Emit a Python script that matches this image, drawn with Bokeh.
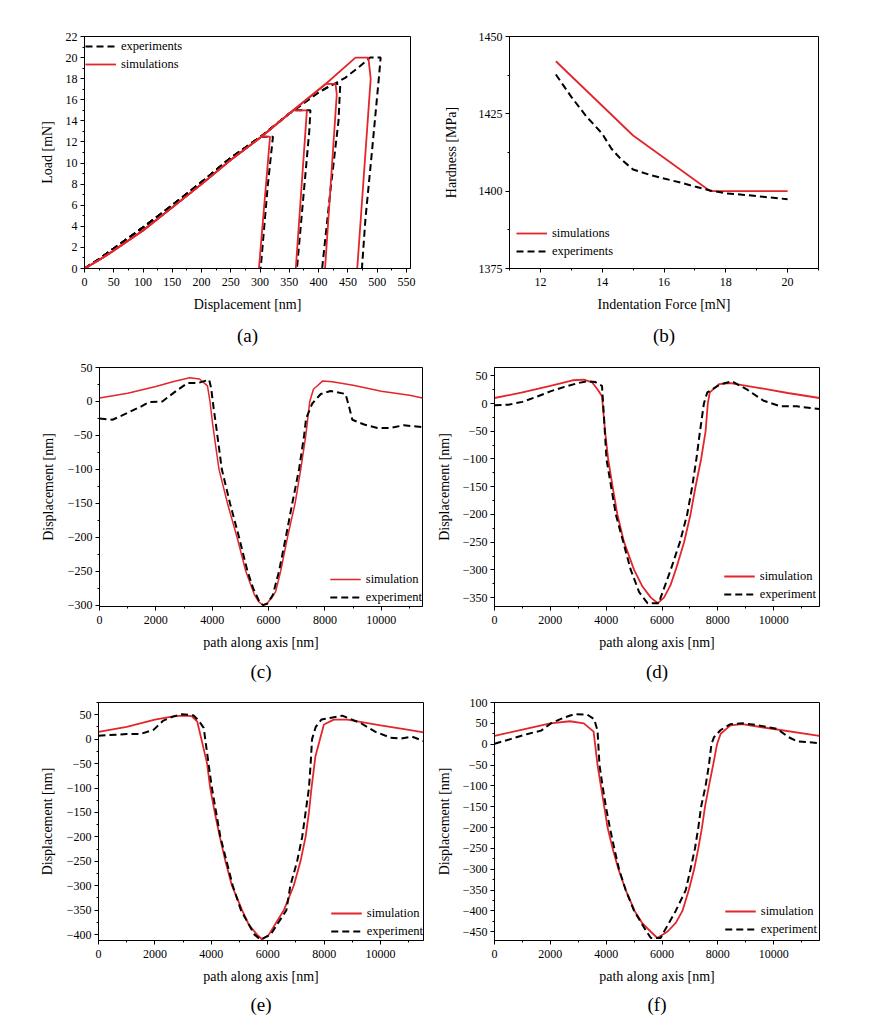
from bokeh.plotting import figure
from bokeh.models import Range1d, SingleIntervalTicker, FixedTicker, Legend, LegendItem, LinearAxis
from bokeh.layouts import column, row
from bokeh.embed import file_html
from bokeh.resources import INLINE

# ---------------- data ----------------
# (a) load-displacement curves
a_sim_load_disp = [0, 25, 50, 100, 150, 200, 250, 300, 350, 412, 463]
a_sim_load_force = [0, 0.8, 1.7, 3.6, 5.8, 8.0, 10.3, 12.4, 14.7, 17.5, 20.0]
a_exp_load_disp = [0, 25, 50, 100, 150, 200, 250, 300, 350, 400, 430, 446, 471, 488]
a_exp_load_force = [0, 0.9, 1.9, 3.9, 6.0, 8.2, 10.5, 12.45, 14.7, 16.7, 17.6, 18.1, 19.2, 20.0]
a_max_force = [12.5, 15.0, 17.5, 20.0]
a_sim_unl_125_disp = [302, 317, 298]
a_sim_unl_125_force = [12.5, 12.5, 0]
a_sim_unl_150_disp = [357, 380, 361]
a_sim_unl_150_force = [15, 15, 0]
a_sim_unl_175_disp = [412, 429, 431, 411]
a_sim_unl_175_force = [17.5, 17.5, 16.5, 0]
a_sim_unl_200_disp = [463, 485, 489, 466]
a_sim_unl_200_force = [20, 20, 18, 0]
a_exp_unl_125_disp = [303, 322, 313, 301]
a_exp_unl_125_force = [12.5, 12.5, 7.8, 0]
a_exp_unl_150_disp = [358, 386, 384, 363]
a_exp_unl_150_force = [15, 15, 13, 0]
a_exp_unl_175_disp = [425, 437, 434, 421, 406]
a_exp_unl_175_force = [17.5, 17.5, 14, 7.8, 0]
a_exp_unl_200_disp = [488, 506, 503, 491, 480, 474]
a_exp_unl_200_force = [20, 20, 18.1, 11, 4.7, 0]

# (b) hardness vs indentation force
b_sim_force = [12.5, 15, 17.5, 20]
b_sim_hard = [1442, 1418, 1400, 1400]
b_exp_force = [12.5, 13, 13.5, 14, 14.3, 14.6, 15, 15.5, 16, 16.6, 17, 17.5, 18, 18.6, 19.2, 20]
b_exp_hard = [1437.7, 1430.5, 1424, 1418.6, 1413.7, 1410.4, 1407, 1405.4, 1404.1, 1402.6, 1401.5, 1400.2,
              1399.3, 1398.8, 1398.2, 1397.4]

# (c) profile
c_sim_x = [0, 1000, 2000, 2600, 3200, 3550, 3830, 3920, 4010, 4120, 4240, 4540, 4880, 5190, 5500, 5650, 5800,
           5950, 6100, 6250, 6430, 6670, 6940, 7140, 7320, 7460, 7590, 7700, 7910, 8260, 9000, 10000, 11000, 11460]
c_sim_y = [5, 12, 22, 29, 35, 33, 23, 0, -32, -65, -100, -150, -200, -250, -285, -295, -300,
           -297, -290, -280, -250, -200, -150, -100, -50, 0, 18, 22, 30, 29, 24, 15, 9, 5]
c_exp_x = [0, 460, 990, 1470, 1760, 2230, 2770, 3120, 3480, 3890, 3960, 4050, 4150, 4340, 4630, 4950, 5250,
           5450, 5650, 5800, 5950, 6150, 6370, 6610, 6840, 7080, 7260, 7330, 7550, 7850, 8200, 8730, 8850,
           8970, 9390, 9860, 10330, 10800, 11460]
c_exp_y = [-25, -27, -17, -7.5, -1, 0, 17, 27, 27, 32, 20, -10, -40, -100, -150, -200, -250,
           -275, -293, -300, -298, -285, -250, -200, -150, -100, -50, -25, -3, 11, 15.5, 11, -7,
           -27, -34, -39, -39, -35, -38]

# (d) profile
d_sim_x = [0, 1000, 2000, 2800, 3200, 3500, 3700, 3850, 3960, 4070, 4230, 4400, 4640, 5000, 5300, 5600, 5850,
           6070, 6300, 6490, 6790, 7020, 7200, 7400, 7560, 7640, 7710, 8040, 8450, 9500, 10500, 11640]
d_sim_y = [10, 20, 32, 42, 43, 38, 25, 13, -50, -100, -150, -200, -250, -300, -330, -350, -360,
           -350, -328, -300, -250, -200, -150, -100, -50, 0, 20, 35, 37, 28, 19, 10]
d_exp_x = [0, 500, 1000, 1500, 2000, 2500, 3000, 3300, 3600, 3850, 3940, 4010, 4345, 4880, 5180, 5480, 5900,
           5950, 6310, 6640, 6900, 7080, 7230, 7360, 7500, 7620, 8100, 8510, 9050, 9640, 10240, 10830, 11640]
d_exp_y = [-3, -2, 3, 12, 22, 30, 37, 40, 39, 32, -40, -100, -200, -300, -340, -360, -360,
           -350, -300, -250, -200, -150, -100, -50, 0, 20, 35, 40, 25, 5, -5, -5, -10]

# (e) profile
e_sim_x = [0, 1000, 2000, 2700, 3000, 3300, 3500, 3850, 3960, 4120, 4300, 4500, 4730, 5090, 5330, 5620, 5800,
           6040, 6300, 6570, 6920, 7160, 7340, 7460, 7550, 7690, 7990, 8340, 8820, 10000, 11000, 11520]
e_sim_y = [15, 25, 40, 47, 48, 47, 36, -50, -100, -150, -200, -250, -300, -350, -380, -400, -410,
           -400, -375, -350, -300, -250, -200, -150, -100, -35, 30, 40, 40, 28, 19, 14]
e_exp_x = [0, 1000, 1480, 1950, 2300, 2660, 2960, 3370, 3550, 3730, 3900, 4020, 4170, 4320, 4760, 5050, 5530,
           5740, 6100, 6660, 6800, 7040, 7220, 7340, 7460, 7520, 7570, 7700, 7900, 8250, 8640, 9290, 9820,
           10350, 10710, 11120, 11520]
e_exp_y = [7, 10.5, 10.5, 19, 38, 46.5, 51, 48.5, 38, 23, -50, -100, -150, -200, -300, -350, -400,
           -410, -400, -350, -300, -250, -200, -150, -100, -50, 0, 25, 40, 44, 48, 33, 15,
           3, 1, 5, -4]

# (f) profile
f_sim_x = [0, 1000, 2000, 2700, 3200, 3550, 3690, 3810, 3930, 4050, 4230, 4440, 4700, 5020, 5300, 5600, 5830,
           6190, 6500, 6730, 6960, 7150, 7300, 7430, 7540, 7680, 7830, 7970, 8100, 8450, 8870, 9640, 11640]
f_sim_y = [20, 35, 50, 55, 50, 30, -50, -100, -150, -200, -250, -300, -350, -400, -430, -450, -465,
           -450, -428, -400, -350, -300, -250, -200, -150, -100, -50, 0, 25, 45, 48, 40, 20]
f_exp_x = [0, 600, 1190, 1670, 2020, 2500, 2860, 3330, 3570, 3690, 3760, 3870, 3990, 4130, 4290, 4460, 4700,
           5000, 5450, 5600, 5950, 6070, 6490, 6850, 7020, 7180, 7300, 7400, 7560, 7680, 7770, 7860, 8100,
           8450, 8870, 9400, 10120, 10540, 10830, 11640]
f_exp_y = [1, 12.7, 24.6, 32.5, 50, 64, 72, 70.6, 60, 32.5, -50, -100, -150, -200, -250, -300, -350,
           -400, -450, -465, -465, -450, -400, -350, -300, -250, -200, -150, -100, -50, 0, 16.7, 34,
           48, 50, 46, 36.5, 16.7, 7, 2.4]

# ---------------- style ----------------
RED = "#e3262b"
BLACK = "#000000"
SERIF = "Liberation Serif, Times New Roman, DejaVu Serif, serif"
DASH = "7 4"


def make_fig(w, h, bl, br, bt, bb, xr, yr, xint, yint, xlabel, ylabel, ylab_st, caption, cap_st):
    p = figure(width=w, height=h, x_range=Range1d(*xr), y_range=Range1d(*yr),
               output_backend="svg", toolbar_location=None,
               min_border_left=bl, min_border_right=br, min_border_top=bt, min_border_bottom=bb)
    p.grid.visible = False
    p.outline_line_color = "black"
    p.outline_line_width = 1
    p.outline_line_alpha = 1
    p.xaxis.ticker = SingleIntervalTicker(interval=xint, num_minor_ticks=2)
    p.yaxis.ticker = SingleIntervalTicker(interval=yint, num_minor_ticks=2)
    for ax in (p.xaxis[0], p.yaxis[0]):
        ax.axis_line_color = "black"
        ax.major_tick_line_color = "black"
        ax.minor_tick_line_color = "black"
        ax.major_tick_out = 4
        ax.major_tick_in = 0
        ax.minor_tick_out = 2
        ax.minor_tick_in = 0
        ax.major_label_text_font = SERIF
        ax.major_label_text_font_size = "12px"
        ax.major_label_text_color = "black"
        ax.axis_label_text_font = SERIF
        ax.axis_label_text_font_size = "14px"
        ax.axis_label_text_font_style = "normal"
        ax.axis_label_text_color = "black"
    p.xaxis.major_label_standoff = 5
    p.yaxis.major_label_standoff = 3
    p.xaxis.axis_label = xlabel
    p.yaxis.axis_label = ylabel
    p.xaxis.axis_label_standoff = 8
    p.yaxis.axis_label_standoff = ylab_st
    # sub-figure caption, drawn as the label of a tick-less axis below the x axis
    cap = LinearAxis(ticker=FixedTicker(ticks=[]), axis_label=caption, axis_line_color=None,
                     major_tick_out=0, major_tick_in=0, minor_tick_out=0, minor_tick_in=0,
                     major_label_standoff=0, axis_label_standoff=cap_st,
                     axis_label_text_font=SERIF, axis_label_text_font_size="19px",
                     axis_label_text_font_style="normal", axis_label_text_color="black")
    p.add_layout(cap, "below")
    return p


def style_legend(leg, location, margin, padding):
    leg.location = location
    leg.margin = margin
    leg.padding = padding
    leg.spacing = 0
    leg.border_line_color = None
    leg.background_fill_alpha = 0
    leg.label_text_font = SERIF
    leg.label_text_font_size = "12.5px"
    leg.label_text_color = "black"
    leg.glyph_width = 31
    leg.glyph_height = 18
    leg.label_height = 18
    leg.label_standoff = 5


# ---------- (a) ----------
fa = make_fig(433, 358, 84, 23, 36, 90, (0, 557), (0, 22), 50, 2,
              "Displacement [nm]", "Load [mN]", 8, "(a)", 10)

sim_branches = [(a_sim_unl_125_disp, a_sim_unl_125_force), (a_sim_unl_150_disp, a_sim_unl_150_force),
                (a_sim_unl_175_disp, a_sim_unl_175_force), (a_sim_unl_200_disp, a_sim_unl_200_force)]
exp_branches = [(a_exp_unl_125_disp, a_exp_unl_125_force), (a_exp_unl_150_disp, a_exp_unl_150_force),
                (a_exp_unl_175_disp, a_exp_unl_175_force), (a_exp_unl_200_disp, a_exp_unl_200_force)]

exp_r = []
sim_r = []
for pmax, (bx, by) in zip(a_max_force, exp_branches):
    xs = [x for x, y in zip(a_exp_load_disp, a_exp_load_force) if y < pmax] + bx
    ys = [y for y in a_exp_load_force if y < pmax] + by
    exp_r.append(fa.line(xs, ys, line_color=BLACK, line_width=2, line_dash=DASH))
for pmax, (bx, by) in zip(a_max_force, sim_branches):
    xs = [x for x, y in zip(a_sim_load_disp, a_sim_load_force) if y < pmax] + bx
    ys = [y for y in a_sim_load_force if y < pmax] + by
    sim_r.append(fa.line(xs, ys, line_color=RED, line_width=1.8))
leg_a = Legend(items=[LegendItem(label="experiments", renderers=[exp_r[0]]),
                      LegendItem(label="simulations", renderers=[sim_r[0]])])
style_legend(leg_a, "top_left", 1, 2)
fa.add_layout(leg_a)

# ---------- (b) ----------
fb = make_fig(437, 358, 76, 52, 36, 90, (11, 21), (1375, 1450), 2, 25,
              "Indentation Force [mN]", "Hardness [MPa]", 17, "(b)", 10)
rb_sim = fb.line(b_sim_force, b_sim_hard, line_color=RED, line_width=1.8)
rb_exp = fb.line(b_exp_force, b_exp_hard, line_color=BLACK, line_width=2, line_dash=DASH)
leg_b = Legend(items=[LegendItem(label="simulations", renderers=[rb_sim]),
                      LegendItem(label="experiments", renderers=[rb_exp])])
style_legend(leg_b, (7, 8), 0, 2)
fb.add_layout(leg_b)


def profile(w, h, bl, br, bt, bb, xr, yr, ylab_st, caption, cap_st, sx, sy, ex, ey, red_w, margin, padding):
    p = make_fig(w, h, bl, br, bt, bb, xr, yr, 2000, 50,
                 "path along axis [nm]", "Displacement [nm]", ylab_st, caption, cap_st)
    rs = p.line(sx, sy, line_color=RED, line_width=red_w)
    re = p.line(ex, ey, line_color=BLACK, line_width=2, line_dash=DASH)
    leg = Legend(items=[LegendItem(label="simulation", renderers=[rs]),
                        LegendItem(label="experiment", renderers=[re])])
    style_legend(leg, "bottom_right", margin, padding)
    p.add_layout(leg)
    return p


fc = profile(433, 334, 99, 11, 9, 86, (0, 11460), (-302, 50), 9, "(c)", 8,
             c_sim_x, c_sim_y, c_exp_x, c_exp_y, 1.5, 0, 1)
fd = profile(437, 334, 60, 51, 9, 86, (0, 11640), (-366, 65), 8, "(d)", 8,
             d_sim_x, d_sim_y, d_exp_x, d_exp_y, 1.8, 3, 1)
fe = profile(433, 338, 98, 10, 10, 90, (0, 11520), (-412, 75), 9, "(e)", 7,
             e_sim_x, e_sim_y, e_exp_x, e_exp_y, 1.8, 0, 1)
ff = profile(437, 338, 60, 51, 10, 90, (0, 11640), (-471, 100), 8, "(f)", 7,
             f_sim_x, f_sim_y, f_exp_x, f_exp_y, 1.8, 2, 2)

layout = column(row(fa, fb), row(fc, fd), row(fe, ff))

with open("out.html", "w") as fh:
    fh.write(file_html(layout, INLINE))
